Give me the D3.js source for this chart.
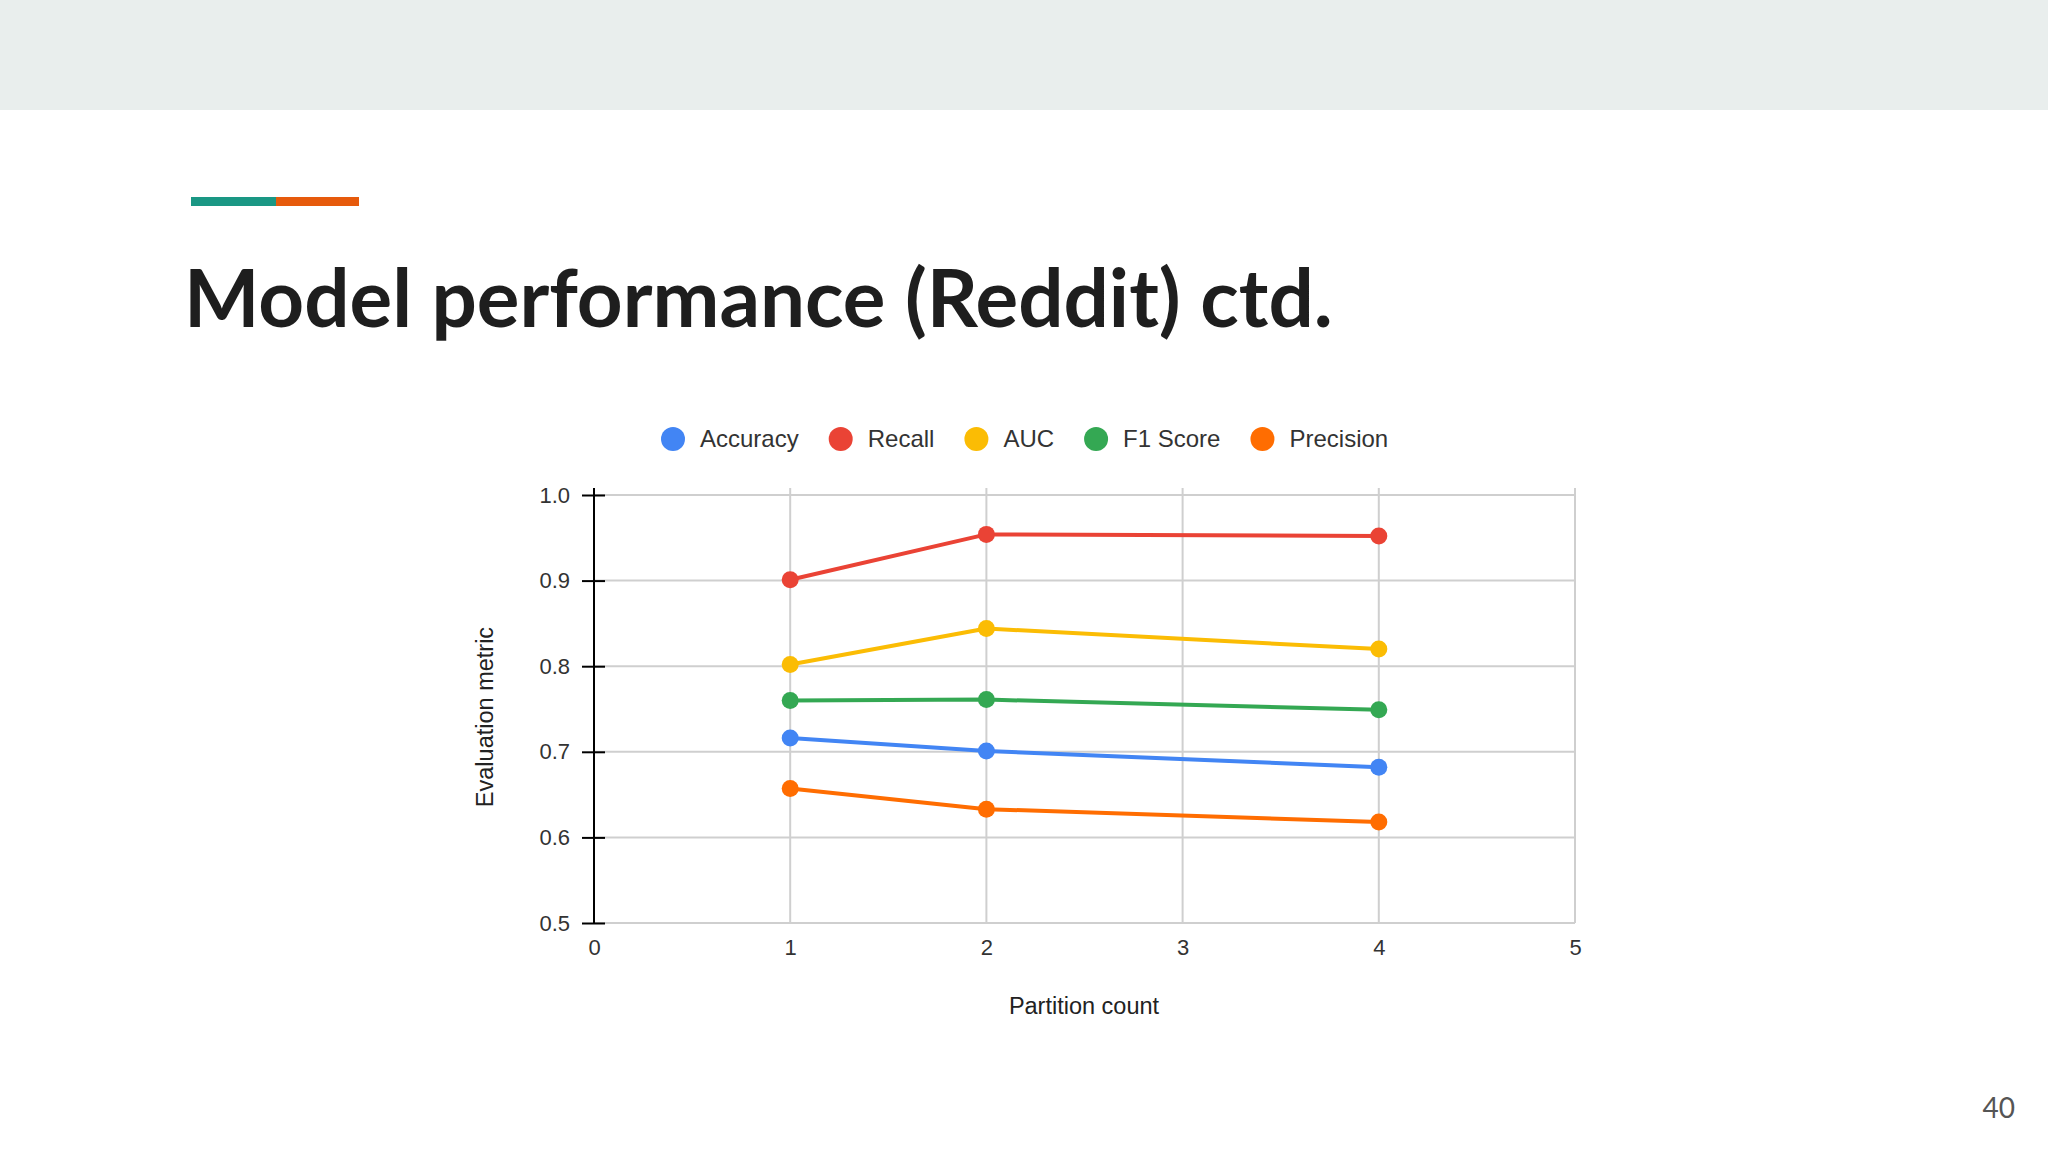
<!DOCTYPE html>
<html>
<head>
<meta charset="utf-8">
<script src="https://cdn.jsdelivr.net/npm/d3@7"></script>
<style>
  body { margin: 0; background: #fff; }
  svg { display: block; }
  text { font-family: "Liberation Sans", Arial, sans-serif; }
</style>
</head>
<body>
<div id="slide"></div>
<script>
// data
const partitions = [1, 2, 4];
const accuracy = [0.716, 0.701, 0.682];
const recall = [0.901, 0.954, 0.952];
const auc = [0.802, 0.844, 0.820];
const f1 = [0.760, 0.761, 0.749];
const precision = [0.657, 0.633, 0.618];

const seriesNames = ["Accuracy", "Recall", "AUC", "F1 Score", "Precision"];
const seriesColors = ["#4285F4", "#EA4335", "#FBBC04", "#34A853", "#FF6D01"];
const xTicks = [0, 1, 2, 3, 4, 5];
const yTicks = [0.5, 0.6, 0.7, 0.8, 0.9, 1.0];

const width = 2048, height = 1152;

const series = [accuracy, recall, auc, f1, precision].map((vals, i) => ({
  name: seriesNames[i],
  color: seriesColors[i],
  points: partitions.map((p, j) => ({ x: p, y: vals[j] }))
}));

const svg = d3.select("#slide").append("svg")
  .attr("width", width)
  .attr("height", height)
  .attr("viewBox", [0, 0, width, height]);

// slide chrome
svg.append("rect").attr("width", width).attr("height", 110).attr("fill", "#e9eeed");
svg.append("rect").attr("x", 191).attr("y", 197).attr("width", 85).attr("height", 9).attr("fill", "#1a9784");
svg.append("rect").attr("x", 276).attr("y", 197).attr("width", 83).attr("height", 9).attr("fill", "#e65a0c");

const title = svg.append("text")
  .attr("x", 184).attr("y", 327)
  .attr("fill", "#1e1e1e")
  .style("font-family", "Lato, 'Open Sans', sans-serif")
  .style("font-weight", 700)
  .style("font-size", "72px")
  .text("Model performance (Reddit) ctd.");
{
  const w = title.node().getComputedTextLength();
  title.style("font-size", (72 * 1149 / w) + "px");
}

svg.append("text")
  .attr("x", 2015).attr("y", 1118)
  .attr("text-anchor", "end")
  .attr("fill", "#555")
  .style("font-family", "Lato, 'Open Sans', sans-serif")
  .style("font-size", "28px")
  .text("40");

// chart
const x = d3.scaleLinear().domain([0, 5]).range([594, 1575]);
const y = d3.scaleLinear().domain([0.5, 1.0]).range([923, 495]);
const plotTop = 488;

const grid = svg.append("g").attr("stroke", "#cfcfcf").attr("stroke-width", 2);
grid.selectAll(".vg").data(xTicks.slice(1)).join("line")
  .attr("x1", d => x(d)).attr("x2", d => x(d))
  .attr("y1", plotTop).attr("y2", y(0.5));
grid.selectAll(".hg").data(yTicks).join("line")
  .attr("x1", x(0)).attr("x2", x(5))
  .attr("y1", d => y(d)).attr("y2", d => y(d));

// y axis
const yAxis = svg.append("g")
  .attr("transform", `translate(${x(0)},0)`)
  .call(d3.axisLeft(y).tickValues(yTicks).tickFormat(d3.format(".1f")).tickSize(12).tickPadding(12));
yAxis.select(".domain").remove();
yAxis.selectAll(".tick line").attr("x1", 11).attr("x2", -12).attr("stroke", "#000").attr("stroke-width", 2);
yAxis.selectAll(".tick text")
  .style("font-size", "22px").attr("fill", "#333");
svg.append("line")
  .attr("x1", x(0)).attr("x2", x(0))
  .attr("y1", plotTop).attr("y2", y(0.5))
  .attr("stroke", "#000").attr("stroke-width", 2);

// x axis labels
const xAxis = svg.append("g")
  .attr("transform", `translate(0,${y(0.5)})`)
  .call(d3.axisBottom(x).tickValues(xTicks).tickFormat(d3.format("d")).tickSize(0).tickPadding(16));
xAxis.select(".domain").remove();
xAxis.selectAll(".tick text").style("font-size", "22px").attr("fill", "#333");

// axis titles
svg.append("text")
  .attr("x", 1084).attr("y", 1014)
  .attr("text-anchor", "middle")
  .attr("fill", "#222")
  .style("font-size", "23.5px")
  .text("Partition count");
svg.append("text")
  .attr("transform", "translate(493,717) rotate(-90)")
  .attr("text-anchor", "middle")
  .attr("fill", "#222")
  .style("font-size", "23.5px")
  .text("Evaluation metric");

// lines and points
const line = d3.line().x(d => x(d.x)).y(d => y(d.y));
const sg = svg.append("g").selectAll("g").data(series).join("g");
sg.append("path")
  .attr("d", d => line(d.points))
  .attr("fill", "none")
  .attr("stroke", d => d.color)
  .attr("stroke-width", 4)
  .attr("stroke-linejoin", "round");
sg.selectAll("circle").data(d => d.points.map(p => ({ ...p, color: d.color }))).join("circle")
  .attr("cx", d => x(d.x))
  .attr("cy", d => y(d.y))
  .attr("r", 8.5)
  .attr("fill", d => d.color);

// legend
const legend = svg.append("g").attr("transform", "translate(0,439)");
let lx = 661;
series.forEach(s => {
  const item = legend.append("g").attr("transform", `translate(${lx},0)`);
  item.append("circle").attr("cx", 12).attr("cy", 0).attr("r", 12).attr("fill", s.color);
  const t = item.append("text")
    .attr("x", 39).attr("y", 0).attr("dy", "0.35em")
    .attr("fill", "#333")
    .style("font-size", "24px")
    .text(s.name);
  lx += 39 + t.node().getComputedTextLength() + 30;
});
</script>
</body>
</html>
